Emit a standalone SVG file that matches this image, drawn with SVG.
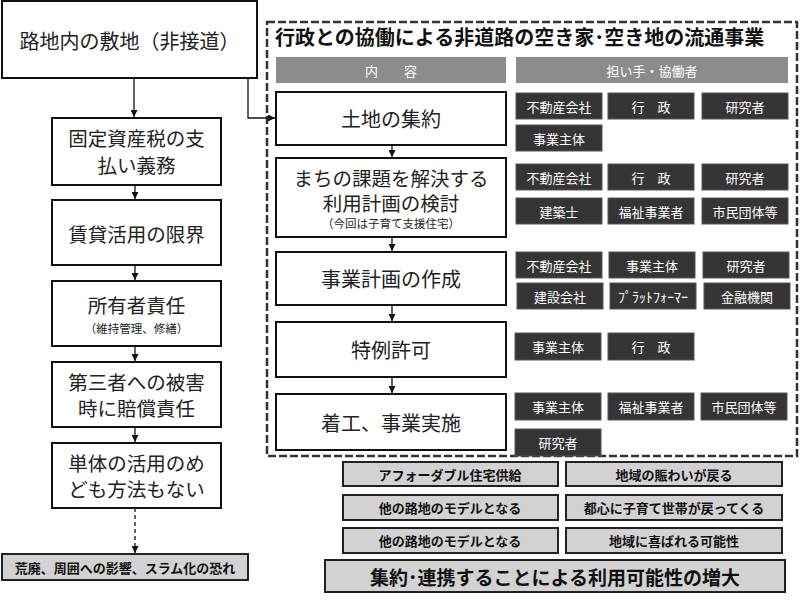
<svg xmlns="http://www.w3.org/2000/svg" width="800" height="600" viewBox="0 0 800 600">
<defs>
<marker id="ah" viewBox="0 0 10 10" refX="10" refY="5" markerWidth="7" markerHeight="7" markerUnits="userSpaceOnUse" orient="auto">
<path d="M0,0 L10,5 L0,10 z" fill="#111"/>
</marker>
<style>
text{font-family:"Noto Sans CJK JP","Noto Sans",sans-serif;dominant-baseline:central;}
.box{fill:#fff;stroke:#111;stroke-width:2;}
.t20{font-size:19.5px;fill:#222;text-anchor:middle;}
.t12{font-size:11.5px;fill:#222;text-anchor:middle;}
.hdr{fill:#8c8c8c;}
.hdrt{font-size:13px;fill:#fff;text-anchor:middle;}
.role{fill:#353535;stroke:#555;stroke-width:1;}
.rolet{font-size:13px;fill:#fff;text-anchor:middle;}
.out{fill:#d2d2d2;stroke:#222;stroke-width:2;}
.outt{font-size:13px;font-weight:bold;fill:#111;text-anchor:middle;}
.conn{fill:none;stroke:#111;stroke-width:1.3;}
</style>
</defs>
<rect width="800" height="600" fill="#fff"/>

<!-- left column -->
<g id="n-site"><rect class="box" x="2" y="1" width="255" height="77"/><text x="129.5" y="40" class="t20" style="font-size:20px">路地内の敷地（非接道）</text></g>
<g id="n-tax"><rect class="box" x="52" y="118" width="169" height="67"/><text x="136.5" y="137.5" class="t20">固定資産税の支</text><text x="136.5" y="164" class="t20">払い義務</text></g>
<g id="n-rent"><rect class="box" x="52" y="200" width="169" height="65"/><text x="136.5" y="233" class="t20">賃貸活用の限界</text></g>
<g id="n-owner"><rect class="box" x="52" y="281" width="169" height="65"/><text x="136.5" y="304" class="t20">所有者責任</text><text x="136.5" y="328" class="t12">（維持管理、修繕）</text></g>
<g id="n-third"><rect class="box" x="52" y="362" width="169" height="65"/><text x="136.5" y="381.5" class="t20">第三者への被害</text><text x="136.5" y="407.5" class="t20">時に賠償責任</text></g>
<g id="n-single"><rect class="box" x="52" y="443" width="169" height="65"/><text x="136.5" y="462.5" class="t20">単体の活用のめ</text><text x="136.5" y="488" class="t20">ども方法もない</text></g>
<g id="n-ruin"><rect class="out" x="2" y="554" width="246" height="26"/><text x="125" y="567" class="outt">荒廃、周囲への影響、スラム化の恐れ</text></g>

<!-- dashed frame -->
<g id="n-frame">
<rect x="267" y="22" width="530" height="434" fill="none" stroke="#333" stroke-width="2.5" stroke-dasharray="8,3"/>
<text x="275" y="36" style="font-size:20px;font-weight:bold;fill:#111;">行政との協働による非道路の空き家･空き地の流通事業</text>
</g>
<g id="n-hdr1"><rect class="hdr" x="276" y="57" width="230" height="26"/><text x="391" y="70" class="hdrt">内　　容</text></g>
<g id="n-hdr2"><rect class="hdr" x="516" y="57" width="272" height="26"/><text x="652" y="70" class="hdrt">担い手・協働者</text></g>

<g id="n-land"><rect class="box" x="276" y="92" width="230" height="53"/><text x="391" y="118" class="t20" style="font-size:20px">土地の集約</text></g>
<g id="n-plan"><rect class="box" x="276" y="158" width="230" height="79"/><text x="391" y="177.5" class="t20">まちの課題を解決する</text><text x="391" y="202" class="t20">利用計画の検討</text><text x="391" y="223" class="t12">（今回は子育て支援住宅）</text></g>
<g id="n-biz"><rect class="box" x="276" y="252" width="230" height="53"/><text x="391" y="278" class="t20" style="font-size:20px">事業計画の作成</text></g>
<g id="n-permit"><rect class="box" x="276" y="322" width="230" height="55"/><text x="391" y="349" class="t20" style="font-size:20px">特例許可</text></g>
<g id="n-start"><rect class="box" x="276" y="394" width="230" height="56"/><text x="391" y="422" class="t20" style="font-size:20px">着工、事業実施</text></g>

<!-- roles -->
<g id="n-roles-land">
<rect class="role" x="516" y="93" width="86" height="26"/><text class="rolet" x="559" y="106">不動産会社</text>
<rect class="role" x="608" y="93" width="86" height="26"/><text class="rolet" x="651" y="106">行　政</text>
<rect class="role" x="702" y="93" width="86" height="26"/><text class="rolet" x="745" y="106">研究者</text>
<rect class="role" x="516" y="125" width="86" height="26"/><text class="rolet" x="559" y="138">事業主体</text>
</g>
<g id="n-roles-plan">
<rect class="role" x="516" y="164" width="86" height="26"/><text class="rolet" x="559" y="177">不動産会社</text>
<rect class="role" x="608" y="164" width="86" height="26"/><text class="rolet" x="651" y="177">行　政</text>
<rect class="role" x="702" y="164" width="86" height="26"/><text class="rolet" x="745" y="177">研究者</text>
<rect class="role" x="516" y="198" width="86" height="26"/><text class="rolet" x="559" y="211">建築士</text>
<rect class="role" x="608" y="198" width="86" height="26"/><text class="rolet" x="651" y="211">福祉事業者</text>
<rect class="role" x="702" y="198" width="86" height="26"/><text class="rolet" x="745" y="211">市民団体等</text>
</g>
<g id="n-roles-biz">
<rect class="role" x="516" y="252" width="86" height="26"/><text class="rolet" x="559" y="265">不動産会社</text>
<rect class="role" x="609" y="252" width="86" height="26"/><text class="rolet" x="652" y="265">事業主体</text>
<rect class="role" x="703" y="252" width="86" height="26"/><text class="rolet" x="746" y="265">研究者</text>
<rect class="role" x="517" y="283" width="86" height="26"/><text class="rolet" x="560" y="296">建設会社</text>
<rect class="role" x="610" y="283" width="86" height="26"/><text class="rolet" x="653" y="296" style="font-size:14px">ﾌﾟﾗｯﾄﾌｫｰﾏｰ</text>
<rect class="role" x="704" y="283" width="86" height="26"/><text class="rolet" x="747" y="296">金融機関</text>
</g>
<g id="n-roles-permit">
<rect class="role" x="515" y="333" width="86" height="27"/><text class="rolet" x="558" y="346">事業主体</text>
<rect class="role" x="608" y="333" width="86" height="27"/><text class="rolet" x="651" y="346">行　政</text>
</g>
<g id="n-roles-start">
<rect class="role" x="515" y="393" width="86" height="27"/><text class="rolet" x="558" y="406">事業主体</text>
<rect class="role" x="608" y="393" width="86" height="27"/><text class="rolet" x="651" y="406">福祉事業者</text>
<rect class="role" x="701" y="393" width="86" height="27"/><text class="rolet" x="744" y="406">市民団体等</text>
<rect class="role" x="515" y="429" width="86" height="27"/><text class="rolet" x="558" y="442">研究者</text>
</g>

<!-- outcomes -->
<g id="n-out1"><rect class="out" x="343" y="462" width="215" height="24"/><text class="outt" x="450" y="474">アフォーダブル住宅供給</text></g>
<g id="n-out2"><rect class="out" x="566" y="462" width="216" height="24"/><text class="outt" x="674" y="474">地域の賑わいが戻る</text></g>
<g id="n-out3"><rect class="out" x="343" y="495" width="215" height="25"/><text class="outt" x="450" y="507.5">他の路地のモデルとなる</text></g>
<g id="n-out4"><rect class="out" x="566" y="495" width="216" height="25"/><text class="outt" x="674" y="507.5">都心に子育て世帯が戻ってくる</text></g>
<g id="n-out5"><rect class="out" x="343" y="528" width="215" height="25"/><text class="outt" x="450" y="540.5">他の路地のモデルとなる</text></g>
<g id="n-out6"><rect class="out" x="566" y="528" width="216" height="25"/><text class="outt" x="674" y="540.5">地域に喜ばれる可能性</text></g>
<g id="n-result"><rect class="out" x="325" y="560" width="460" height="32"/><text x="555" y="576" style="font-size:19px;font-weight:bold;fill:#111;text-anchor:middle;">集約･連携することによる利用可能性の増大</text></g>

<!-- connectors -->
<g id="connectors">
<path class="conn" d="M134,78 V117" marker-end="url(#ah)"/>
<path class="conn" d="M248,78 V118 H275" marker-end="url(#ah)"/>
<path class="conn" d="M135,185 V199" marker-end="url(#ah)"/>
<path class="conn" d="M135,265 V280" marker-end="url(#ah)"/>
<path class="conn" d="M135,346 V361" marker-end="url(#ah)"/>
<path class="conn" d="M135,427 V442" marker-end="url(#ah)"/>
<path class="conn" d="M135,508 V553" stroke-dasharray="4,3" marker-end="url(#ah)"/>
<path class="conn" d="M392,145 V157" marker-end="url(#ah)"/>
<path class="conn" d="M392,237 V251" marker-end="url(#ah)"/>
<path class="conn" d="M392,305 V321" marker-end="url(#ah)"/>
<path class="conn" d="M392,377 V393" marker-end="url(#ah)"/>
</g>
</svg>
